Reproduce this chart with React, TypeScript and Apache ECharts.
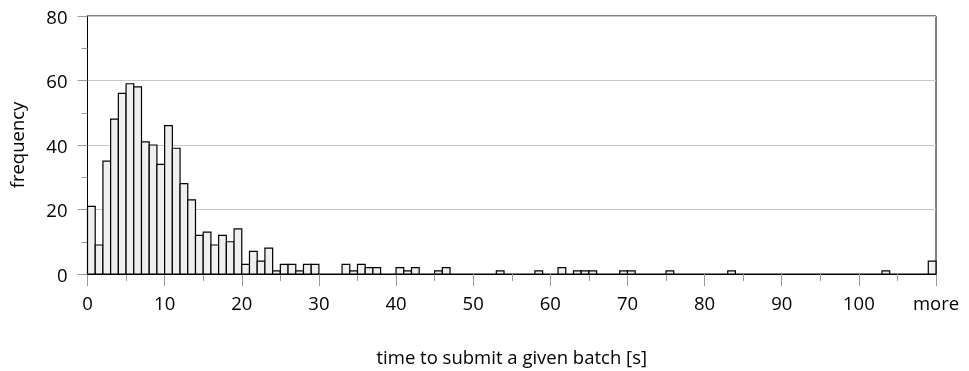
import React, { useEffect, useRef } from "react";
import * as echarts from "echarts";

// Histogram bins: bin i covers [i, i+1) seconds; last bin (109) is "more"
const binCounts: number[] = [
  21, 9, 35, 48, 56, 59, 58, 41, 40, 34,
  46, 39, 28, 23, 12, 13, 9, 12, 10, 14,
  3, 7, 4, 8, 1, 3, 3, 1, 3, 3,
  0, 0, 0, 3, 1, 3, 2, 2, 0, 0,
  2, 1, 2, 0, 0, 1, 2, 0, 0, 0,
  0, 0, 0, 1, 0, 0, 0, 0, 1, 0,
  0, 2, 0, 1, 1, 1, 0, 0, 0, 1,
  1, 0, 0, 0, 0, 1, 0, 0, 0, 0,
  0, 0, 0, 1, 0, 0, 0, 0, 0, 0,
  0, 0, 0, 0, 0, 0, 0, 0, 0, 0,
  0, 0, 0, 1, 0, 0, 0, 0, 0, 4,
];
const xMax = 110;
const moreLabel = "more";
const xTitle = "time to submit a given batch [s]";
const yTitle = "frequency";

const FONT = "Open Sans";
const FS = 18.5;

export default function App() {
  const ref = useRef<HTMLDivElement>(null);
  useEffect(() => {
    if (!ref.current) return;
    const chart = echarts.init(ref.current, null, { renderer: "svg" });
    const data = binCounts.map((v, i) => [i, v]);
    chart.setOption({
      animation: false,
      grid: {
        left: 87.5,
        right: 33,
        top: 16,
        bottom: 97,
        outerBoundsMode: "none",
        containLabel: false,
        show: true,
        borderColor: "#000",
        borderWidth: 1,
        backgroundColor: "transparent",
      },
      xAxis: {
        type: "value",
        min: 0,
        max: xMax,
        interval: 10,
        name: xTitle,
        nameLocation: "middle",
        nameGap: 73,
        nameTextStyle: { fontFamily: FONT, fontSize: FS, color: "#000" },
        axisLine: { show: true, lineStyle: { color: "#000", width: 1 } },
        axisTick: { show: true, length: 12, lineStyle: { color: "#999", width: 1 } },
        minorTick: { show: true, splitNumber: 2, length: 7, lineStyle: { color: "#999", width: 1 } },
        axisLabel: {
          margin: 19,
          fontFamily: FONT,
          fontSize: FS,
          color: "#000",
          formatter: (v: number) => (v === xMax ? moreLabel : String(v)),
        },
        splitLine: { show: false },
      },
      yAxis: {
        type: "value",
        min: 0,
        max: 80,
        interval: 20,
        name: yTitle,
        nameLocation: "middle",
        nameGap: 62,
        nameTextStyle: { fontFamily: FONT, fontSize: FS, color: "#000" },
        axisLine: { show: true, lineStyle: { color: "#000", width: 1 } },
        axisTick: { show: true, length: 10, lineStyle: { color: "#999", width: 1 } },
        minorTick: { show: true, splitNumber: 2, length: 6, lineStyle: { color: "#999", width: 1 } },
        axisLabel: { margin: 20, fontFamily: FONT, fontSize: FS, color: "#000" },
        splitLine: { show: true, lineStyle: { color: "#c8c8c8", width: 1 } },
      },
      series: [
        {
          type: "custom",
          data,
          encode: { x: 0, y: 1 },
          renderItem: (params: any, api: any) => {
            const i = api.value(0);
            const v = api.value(1);
            if (!v) return null;
            const p0 = api.coord([i, 0]);
            const p1 = api.coord([i + 1, v]);
            return {
              type: "rect",
              shape: { x: p0[0], y: p1[1], width: p1[0] - p0[0], height: p0[1] - p1[1] },
              style: { fill: "#efefef", stroke: "#000", lineWidth: 1.2 },
            };
          },
        },
      ],
    });
    return () => chart.dispose();
  }, []);
  return (
    <div
      ref={ref}
      style={{ position: "fixed", left: 0, top: 0, width: 969, height: 371 }}
    />
  );
}
